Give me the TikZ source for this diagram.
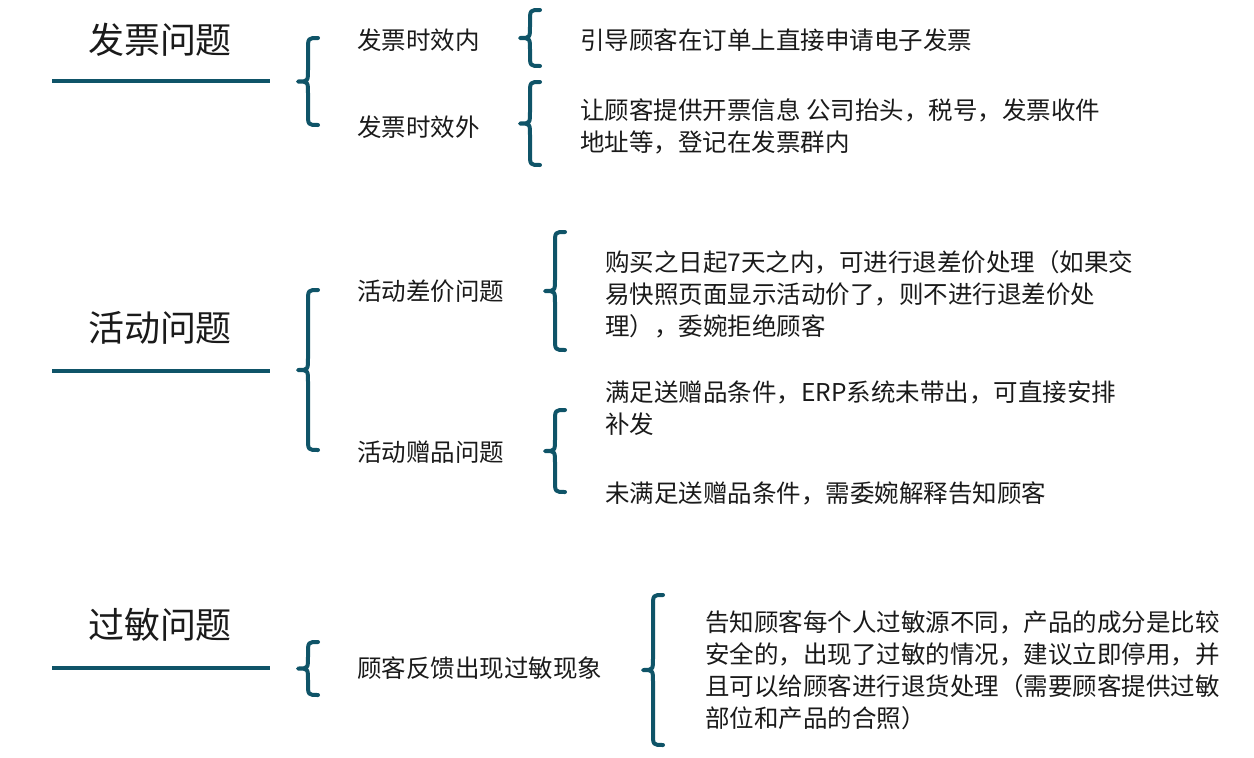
\documentclass[tikz,border=0pt]{standalone}
\usepackage{fontspec}
\setmainfont{Noto Sans CJK SC}
\definecolor{teal}{HTML}{0F5468}
\definecolor{txt}{HTML}{1A1A1A}
\newcommand\mybrace[4]{% x0 (tip), xr (ends), ytop, ybot
  \pgfmathsetmacro\xm{(#1+#2)/2}\pgfmathsetmacro\ym{(#3+#4)/2}\pgfmathsetmacro\r{min(12,(#4-#3)/4)}
  \draw[bline] (#2,#3) .. controls (\xm,#3) .. (\xm,#3+\r) -- (\xm,\ym-\r) .. controls (\xm,\ym) .. (#1,\ym)
     .. controls (\xm,\ym) .. (\xm,\ym+\r) -- (\xm,#4-\r) .. controls (\xm,#4) .. (#2,#4);}
\begin{document}
\begin{tikzpicture}[x=1pt,y=-1pt,
  bline/.style={teal,line width=4pt,line cap=round,line join=round},
  hline/.style={teal,line width=4pt},
  title/.style={font=\fontsize{36}{40}\selectfont,text=txt,inner sep=0pt},
  lbl/.style={font=\fontsize{24.5}{32}\selectfont,text=txt,anchor=west,inner sep=0pt,align=left}]
\useasboundingbox (0,0) rectangle (1254,758);
\node[title] (t1) at (160,40) {发票问题};
\node[title] (t2) at (160,328) {活动问题};
\node[title] (t3) at (160,625) {过敏问题};
\draw[hline] (52,81) -- (270,81);
\draw[hline] (52,371) -- (270,371);
\draw[hline] (52,668) -- (270,668);
\mybrace{298}{318}{38}{125}
\mybrace{520}{540}{10}{66}
\mybrace{520}{540}{82}{165}
\mybrace{298}{318}{290}{450}
\mybrace{545}{565}{232}{350}
\mybrace{545}{565}{410}{492}
\mybrace{298}{318}{642}{695}
\mybrace{643}{663}{595}{745}
\node[lbl] (a1) at (357,40) {发票时效内};
\node[lbl] (a2) at (357,127) {发票时效外};
\node[lbl] (a3) at (357,291) {活动差价问题};
\node[lbl] (a4) at (357,452) {活动赠品问题};
\node[lbl] (a5) at (357,668) {顾客反馈出现过敏现象};
\node[lbl] (b1) at (580,40) {引导顾客在订单上直接申请电子发票};
\node[lbl] (b2) at (580,126) {让顾客提供开票信息 公司抬头，税号，发票收件\\地址等，登记在发票群内};
\node[lbl] (b3) at (605,294) {购买之日起7天之内，可进行退差价处理（如果交\\易快照页面显示活动价了，则不进行退差价处\\理），委婉拒绝顾客};
\node[lbl] (b4) at (605,408) {满足送赠品条件，ERP系统未带出，可直接安排\\补发};
\node[lbl] (b5) at (605,493) {未满足送赠品条件，需委婉解释告知顾客};
\node[lbl] (b6) at (705,670) {告知顾客每个人过敏源不同，产品的成分是比较\\安全的，出现了过敏的情况，建议立即停用，并\\且可以给顾客进行退货处理（需要顾客提供过敏\\部位和产品的合照）};
\end{tikzpicture}
\end{document}
